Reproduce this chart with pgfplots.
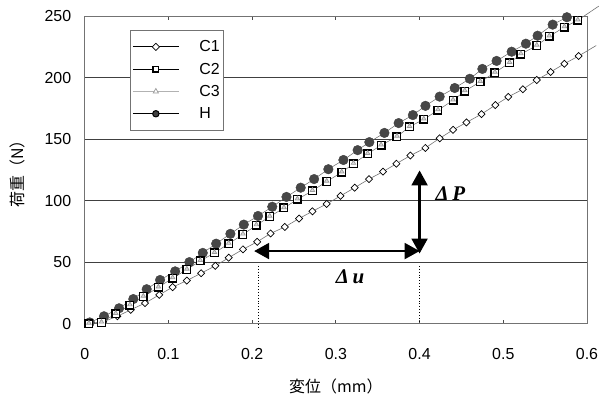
\documentclass[border=0pt]{standalone}
\usepackage{pgfplots}
\pgfplotsset{compat=1.18}
\usepackage{pgfplotstable}
\usepackage{fontspec}
\setmainfont{Liberation Sans}
\newfontfamily\cjk{Noto Sans CJK JP}
\newfontfamily\serifit{Liberation Serif}
\usetikzlibrary{calc,arrows.meta}

% displacement (mm) / load (N)
\pgfplotstableread{
x y
0.005 0
0.022 1.5
0.039 6
0.055 11.3
0.072 16.7
0.089 23.4
0.105 29.7
0.122 35
0.139 41
0.156 47
0.172 53.6
0.189 60.4
0.206 66.5
0.222 73.3
0.239 78.6
0.256 85.4
0.272 91.3
0.289 97.3
0.3055 103.8
0.3225 110.5
0.3396 117.5
0.3563 123.5
0.3723 130
0.389 136.6
0.4069 142.8
0.424 150.6
0.440 157.5
0.456 163.5
0.474 170.3
0.4905 177.6
0.506 184.3
0.5234 190.5
0.540 198
0.5565 204.5
0.573 211.2
0.590 217.5
}\Cone

\pgfplotstableread{
x y
0.005 0
0.020 1
0.037 8
0.054 15
0.070 22
0.088 29.5
0.105 37
0.122 44
0.138 51
0.155 57.5
0.172 65
0.189 72.5
0.205 80
0.221 87
0.238 94
0.254 101
0.272 108
0.289 115.5
0.307 123
0.321 130
0.338 138
0.354 145
0.373 152
0.388 160
0.405 166
0.422 173.5
0.440 181.5
0.454 189
0.4725 196.5
0.490 204
0.5075 212
0.521 219
0.540 226
0.555 233.5
0.573 241
0.589 246.5
}\Ctwo

\pgfplotstableread{
x y
0.005 0.5
0.020 1.5
0.037 8.5
0.054 15.5
0.070 22.5
0.088 30
0.105 37.5
0.122 44.5
0.138 51.5
0.155 58
0.172 65.5
0.189 73
0.205 80.5
0.221 87.5
0.238 94.5
0.254 101.5
0.272 108.5
0.289 116
0.307 123.5
0.321 130.5
0.338 138.5
0.354 145.5
0.373 152.5
0.388 160.5
0.405 166.5
0.422 174
0.440 182
0.454 189.5
0.4725 197
0.490 204.5
0.5075 212.5
0.521 219.5
0.540 226.5
0.555 234
0.573 241.5
0.589 247
}\Cthree

\pgfplotstableread{
x y
0.006 1
0.023 6
0.041 12.5
0.058 20
0.074 28
0.090 35.5
0.108 42.5
0.125 50
0.141 57.5
0.157 65
0.174 73
0.190 80.5
0.207 87.5
0.224 95
0.241 103
0.258 110.5
0.274 117.5
0.291 125.5
0.309 133
0.326 141
0.340 147.5
0.358 155
0.375 163
0.392 169.5
0.407 177
0.424 184.5
0.442 191.5
0.460 199
0.475 207
0.492 213.5
0.510 221
0.527 227.5
0.541 234
0.559 243
0.576 249
}\Hdata

\begin{document}
\begin{tikzpicture}
\begin{axis}[
    scale only axis,
    width=502bp, height=307.5bp,
    xmin=0, xmax=0.6,
    ymin=0, ymax=250,
    xtick={0,0.1,...,0.6},
    ytick={0,50,...,250},
    xticklabel style={/pgf/number format/fixed,/pgf/number format/precision=1, yshift=-21bp},
    yticklabel style={xshift=-10bp},
    /pgf/number format/assume math mode=true,
    tick label style={font=\fontsize{16}{16}\selectfont},
    tick align=inside,
    major tick length=4bp,
    ytick style={draw=none},
    xtick style={black!70, line width=0.8bp},
    ymajorgrids,
    major grid style={black!75, line width=0.8bp},
    axis line style={black!55, line width=0.8bp},
    clip=false,
    every axis x label/.style={at={(rel axis cs:0.5,0)}, anchor=center, yshift=-63bp},
    every axis y label/.style={at={(rel axis cs:0,0.5)}, anchor=center, rotate=90, yshift=67bp},
    xlabel={\cjk\fontsize{16}{16}\selectfont 変位（mm）},
    ylabel={\cjk\fontsize{16}{16}\selectfont 荷重（N）},
    legend image code/.code={\draw[mark repeat=2,mark phase=2,#1] plot coordinates {(0bp,0bp)(23bp,0bp)(46bp,0bp)};},
    legend style={at={(rel axis cs:0.09,0.954)}, anchor=north west, draw=black!55, fill=white,
        line width=0.8bp, font=\fontsize{16}{16}\selectfont, row sep=5.7bp,
        inner xsep=2bp, inner ysep=8bp},
    legend cell align=left,
]
% H first so the squares sit above the circles
\addplot[black!60, line width=0.5bp, forget plot] table {\Hdata};
\addplot[only marks, mark=*, mark size=4.8bp, draw=black!75, fill=black!72, forget plot] table {\Hdata};

\addplot[black!55, line width=0.6bp, forget plot] table {\Cone};
\addplot[black!55, line width=0.6bp, forget plot] coordinates {(0.590,217.5) (0.611,226)};
\addplot[only marks, mark=square*, mark size=2.5bp, mark options={rotate=45, draw=black, fill=white, line width=0.7bp}, forget plot] table {\Cone};

\addplot[black!60, line width=0.5bp, forget plot] table {\Ctwo};
\addplot[black!55, line width=0.6bp, forget plot] coordinates {(0.589,246.5) (0.614,258)};
\addplot[only marks, mark=square*, mark size=3.8bp, mark options={draw=black, fill=white, line width=1.4bp}, forget plot] table {\Ctwo};

\addplot[only marks, mark=triangle*, mark size=2.6bp, mark options={draw=black!40, fill=black!15, line width=0.7bp}, forget plot] table {\Cthree};

\addlegendimage{black, line width=1bp, mark=square*, mark size=2.5bp, mark options={rotate=45, fill=white, line width=0.7bp}}
\addlegendentry{\hspace{18bp}C1\hspace{42bp}}
\addlegendimage{black, line width=1bp, mark=square*, mark size=2.8bp, mark options={fill=white, line width=1.2bp}}
\addlegendentry{\hspace{18bp}C2\hspace{42bp}}
\addlegendimage{black!30, line width=1bp, mark=triangle*, mark size=3bp, mark options={draw=black!40, fill=white, line width=0.7bp}}
\addlegendentry{\hspace{18bp}C3\hspace{42bp}}
\addlegendimage{black, line width=1bp, mark=*, mark size=3.2bp, mark options={fill=black!75}}
\addlegendentry{\hspace{18bp}H\hspace{42bp}}

% annotations
\draw[dotted, line width=0.9bp] (axis cs:0.207,47) -- (axis cs:0.207,-4);
\draw[dotted, line width=0.9bp] (axis cs:0.4,47) -- (axis cs:0.4,0);
\draw[line width=2.2bp, {Triangle[length=15bp,width=16bp]}-{Triangle[length=15bp,width=16bp]}]
    (axis cs:0.2024,59) -- (axis cs:0.4,59);
\draw[line width=2.2bp, {Triangle[length=15bp,width=16bp]}-{Triangle[length=15bp,width=16bp]}]
    (axis cs:0.4,124.5) -- (axis cs:0.4,57);
\node[anchor=west, font=\serifit\bfseries\itshape\fontsize{21}{21}\selectfont, inner sep=0pt]
    at (axis cs:0.419,106) {Δ\,P};
\node[anchor=center, font=\serifit\bfseries\itshape\fontsize{21}{21}\selectfont, inner sep=0pt]
    at (axis cs:0.317,38) {Δ\,u};

\coordinate (SW) at (rel axis cs:0,0);
\coordinate (NE) at (rel axis cs:1,1);
\end{axis}
\pgfresetboundingbox
\path ($(SW)+(-84.7bp,-76.5bp)$) rectangle ($(NE)+(12bp,16bp)$);
\end{tikzpicture}
\end{document}
